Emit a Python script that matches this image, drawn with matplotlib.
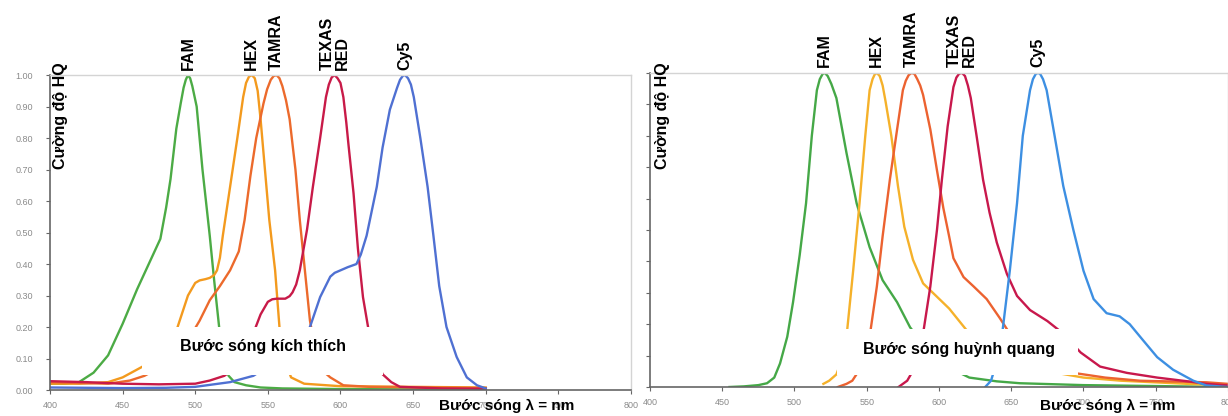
# -*- coding: utf-8 -*-
"""
Phổ kích thích / phổ huỳnh quang của các chất nhuộm FAM, HEX, TAMRA, TEXAS RED, Cy5.
"""
import matplotlib
matplotlib.use("Agg")
import matplotlib.pyplot as plt
from matplotlib.patches import Rectangle

plt.rcParams['font.family'] = ['Liberation Sans', 'DejaVu Sans']

# --- dữ liệu (bước sóng nm, cường độ chuẩn hoá) ---
dyes = ["FAM", "HEX", "TAMRA", "TEXAS\nRED", "Cy5"]

# phổ kích thích
fam_ex_wl = [400, 410, 420, 430, 440, 450, 460, 470, 476, 480, 483, 487, 490, 492, 493.5, 495,
             496.5, 498, 501, 505, 510, 513, 516, 519, 523, 527, 535, 545, 560, 600, 650, 700]
fam_ex = [0.02, 0.02, 0.025, 0.055, 0.11, 0.21, 0.32, 0.42, 0.48, 0.58, 0.67, 0.83, 0.91, 0.96,
          0.985, 1.0, 0.99, 0.965, 0.90, 0.70, 0.49, 0.35, 0.22, 0.09, 0.045, 0.025, 0.015,
          0.008, 0.005, 0.003, 0.002, 0.002]

hex_ex_wl = [400, 420, 440, 450, 460, 470, 480, 485, 490, 495, 500, 503, 507, 510, 513, 515,
             517, 519, 524, 529, 533, 535, 537, 539, 541, 543, 545, 548, 551, 555, 558, 562, 566,
             575, 600, 650, 700]
hex_ex = [0.02, 0.02, 0.025, 0.04, 0.065, 0.09, 0.12, 0.16, 0.23, 0.30, 0.34, 0.348, 0.352,
          0.356, 0.365, 0.38, 0.42, 0.49, 0.645, 0.80, 0.93, 0.975, 0.995, 1.0, 0.99, 0.95, 0.86,
          0.70, 0.54, 0.38, 0.20, 0.09, 0.04, 0.02, 0.012, 0.01, 0.008]

tamra_ex_wl = [400, 420, 440, 455, 465, 475, 485, 494, 503, 510, 517, 524, 530, 534, 538, 542,
               547, 549.5, 552, 554, 556, 558, 560, 562.5, 565, 569, 572, 575.5, 579, 583, 588,
               593, 602, 620, 660, 700]
tamra_ex = [0.025, 0.022, 0.02, 0.03, 0.045, 0.07, 0.095, 0.15, 0.22, 0.285, 0.33, 0.38, 0.44,
            0.54, 0.68, 0.80, 0.91, 0.955, 0.985, 0.997, 1.0, 0.99, 0.965, 0.92, 0.86, 0.70,
            0.54, 0.38, 0.22, 0.12, 0.06, 0.04, 0.015, 0.01, 0.008, 0.006]

texas_ex_wl = [400, 425, 450, 475, 500, 510, 520, 528, 534, 540, 545, 550, 553, 556, 562, 565,
               567, 569.5, 572, 577, 581, 586, 590, 592, 594, 596, 598, 600, 602, 604, 605.5, 609,
               612, 615.5, 619, 624, 629, 635, 641, 670, 700]
texas_ex = [0.028, 0.025, 0.02, 0.018, 0.02, 0.03, 0.045, 0.07, 0.11, 0.18, 0.24, 0.28, 0.288,
            0.29, 0.29, 0.298, 0.31, 0.335, 0.38, 0.51, 0.645, 0.80, 0.93, 0.97, 0.993, 1.0,
            0.99, 0.975, 0.93, 0.85, 0.78, 0.625, 0.45, 0.295, 0.20, 0.11, 0.05, 0.025, 0.01,
            0.005, 0.004]

cy5_ex_wl = [400, 450, 480, 500, 524, 540, 550, 560, 570, 579, 586, 593, 596, 600, 605, 611,
             614, 618, 625, 629, 634, 639, 641, 643, 644.5, 646.5, 648.5, 650.5, 655, 660, 664,
             668, 673, 680, 687, 694, 700]
cy5_ex = [0.008, 0.006, 0.007, 0.01, 0.025, 0.045, 0.075, 0.11, 0.155, 0.20, 0.295, 0.36, 0.372,
          0.38, 0.39, 0.40, 0.43, 0.49, 0.645, 0.77, 0.89, 0.96, 0.985, 0.998, 1.0, 0.99, 0.97,
          0.93, 0.80, 0.645, 0.49, 0.33, 0.20, 0.105, 0.04, 0.015, 0.005]

# phổ huỳnh quang
fam_em_wl = [455, 465, 475, 481, 486, 490, 495, 499, 503.6, 508, 512, 515.5, 517.5, 519.5, 521,
             523, 525.5, 529, 536, 543, 552, 561, 571, 580, 590, 600, 610, 621, 640, 656, 700,
             750, 800]
fam_em = [0.0, 0.002, 0.006, 0.012, 0.03, 0.075, 0.16, 0.27, 0.42, 0.585, 0.80, 0.945, 0.98,
          0.997, 1.0, 0.99, 0.965, 0.92, 0.745, 0.585, 0.445, 0.34, 0.27, 0.19, 0.13, 0.085,
          0.055, 0.03, 0.018, 0.012, 0.006, 0.003, 0.0]

hex_em_wl = [520, 524, 529, 533, 536, 540.6, 545, 549, 552, 554, 555.5, 557, 559, 561, 563, 567,
             571.6, 576, 582, 589, 598, 607, 614, 621, 635, 650, 675, 700, 726, 772, 800]
hex_em = [0.01, 0.02, 0.04, 0.09, 0.16, 0.37, 0.585, 0.80, 0.945, 0.98, 0.995, 1.0, 0.99, 0.96,
          0.91, 0.80, 0.64, 0.51, 0.405, 0.33, 0.29, 0.25, 0.21, 0.17, 0.115, 0.08, 0.05, 0.03,
          0.02, 0.01, 0.005]

tamra_em_wl = [530, 536, 540, 545, 552, 557, 561, 566, 571, 575, 577, 579, 581, 583, 585, 587,
               589, 594, 598.6, 603, 607, 610, 617, 624, 633, 642, 649, 660, 675, 693, 715, 739,
               785, 800]
tamra_em = [0.0, 0.01, 0.02, 0.055, 0.16, 0.32, 0.48, 0.66, 0.82, 0.945, 0.975, 0.993, 1.0,
            0.997, 0.98, 0.96, 0.93, 0.82, 0.69, 0.57, 0.48, 0.41, 0.35, 0.32, 0.28, 0.22, 0.17,
            0.12, 0.075, 0.045, 0.03, 0.02, 0.015, 0.01]

texas_em_wl = [572, 578, 583, 589, 594, 598.6, 602, 606, 610, 612, 614, 616, 618, 620, 622, 626,
               630.5, 635, 640, 647, 654, 663, 675, 686, 698, 711.5, 730, 751, 774, 785, 800]
texas_em = [0.0, 0.02, 0.06, 0.17, 0.32, 0.50, 0.66, 0.83, 0.955, 0.985, 0.998, 1.0, 0.99, 0.96,
            0.92, 0.80, 0.66, 0.555, 0.46, 0.36, 0.29, 0.245, 0.21, 0.17, 0.11, 0.065, 0.045,
            0.03, 0.017, 0.01, 0.005]

cy5_em_wl = [632, 636, 640, 644, 649, 654, 658, 663, 665, 667, 668.5, 670, 672, 674.5, 680, 686,
             693, 700, 707, 716, 725, 732, 741, 751, 762, 776, 785, 800]
cy5_em = [0.0, 0.02, 0.08, 0.18, 0.37, 0.585, 0.80, 0.945, 0.98, 0.997, 1.0, 0.997, 0.98, 0.945,
          0.80, 0.64, 0.50, 0.37, 0.28, 0.235, 0.225, 0.20, 0.15, 0.095, 0.055, 0.02, 0.005, 0.0]

x_ticks = [400, 450, 500, 550, 600, 650, 700, 750, 800]
y_ticks = [0.0, 0.1, 0.2, 0.3, 0.4, 0.5, 0.6, 0.7, 0.8, 0.9, 1.0]

ex_colors = ['#4cab45', '#f39a1e', '#ec6a2c', '#c81a48', '#4f70d2']
em_colors = ['#45a847', '#f5b12a', '#ec6230', '#c8184c', '#3d8fe2']

AXIS_GRAY = '#666666'
LIGHT_GRAY = '#d4d4d4'
TICK_GRAY = '#8a8a8a'


def style_axes(ax, show_ylabels):
    ax.set_xlim(400, 800)
    ax.set_ylim(0, 1.0)
    ax.set_xticks(x_ticks)
    ax.set_xticklabels([str(t) for t in x_ticks])
    ax.set_yticks(y_ticks)
    if show_ylabels:
        ax.set_yticklabels([f"{t:.2f}" for t in y_ticks])
    else:
        ax.set_yticklabels([])
    ax.tick_params(axis='both', direction='out', length=3, width=0.8, color=AXIS_GRAY,
                   labelsize=6.5, labelcolor=TICK_GRAY)
    ax.tick_params(axis='y', pad=9)
    ax.tick_params(axis='x', pad=5)
    for side in ('left', 'bottom'):
        ax.spines[side].set_color(AXIS_GRAY)
        ax.spines[side].set_linewidth(1.2)
    for side in ('top', 'right'):
        ax.spines[side].set_color(LIGHT_GRAY)
        ax.spines[side].set_linewidth(1.0)


def draw_panel(ax, series, colors, box, box_text, show_ylabels):
    style_axes(ax, show_ylabels)
    for name, (wl, val), c in zip(dyes, series, colors):
        ax.plot(wl, val, color=c, lw=1.7, solid_joinstyle='round', zorder=2)
        # nhãn tên chất nhuộm phía trên đỉnh phổ
        peak = wl[val.index(max(val))]
        ax.annotate(name, (peak, 1.0), xytext=(0, 4), textcoords='offset points',
                    rotation=90, ha='center', va='bottom', multialignment='left',
                    fontsize=11.5, fontweight='bold', linespacing=1.0, annotation_clip=False)
    x0, x1, y0, y1, tx, ty = box
    ax.add_patch(Rectangle((x0, y0), x1 - x0, y1 - y0, facecolor='white', edgecolor='none',
                           zorder=3))
    ax.text(tx, ty, box_text, fontsize=11.5, fontweight='bold', va='center', ha='left',
            zorder=4)


def main():
    fig = plt.figure(figsize=(12.28, 4.16), dpi=100)
    ax_ex = fig.add_axes([0.0407, 0.0625, 0.4731, 0.757])
    ax_em = fig.add_axes([0.5293, 0.0697, 0.4707, 0.755])

    ex_series = [(fam_ex_wl, fam_ex), (hex_ex_wl, hex_ex), (tamra_ex_wl, tamra_ex),
                 (texas_ex_wl, texas_ex), (cy5_ex_wl, cy5_ex)]
    em_series = [(fam_em_wl, fam_em), (hex_em_wl, hex_em), (tamra_em_wl, tamra_em),
                 (texas_em_wl, texas_em), (cy5_em_wl, cy5_em)]

    draw_panel(ax_ex, ex_series, ex_colors, (463.3, 629.3, 0.048, 0.2, 489.5, 0.137),
               "Bước sóng kích thích", True)
    draw_panel(ax_em, em_series, em_colors, (529.4, 696.2, 0.038, 0.185, 547.4, 0.121),
               "Bước sóng huỳnh quang", False)

    # nhãn trục
    for xc in (60 / 1228, 662 / 1228):
        fig.text(xc, 1 - 62 / 416, "Cường độ HQ", rotation=90, ha='center', va='top',
                 fontsize=11.5, fontweight='bold')
    for xc in (507 / 1228, 1108 / 1228):
        fig.text(xc, 10 / 416, "Bước sóng λ = nm", ha='center', va='center',
                 fontsize=11, fontweight='bold', zorder=10)

    fig.savefig("out.png", dpi=100)
    plt.close(fig)


if __name__ == "__main__":
    main()
